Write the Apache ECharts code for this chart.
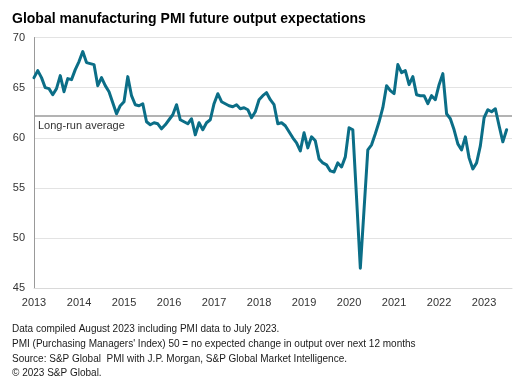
<!DOCTYPE html>
<html>
<head>
<meta charset="utf-8">
<script src="https://cdn.jsdelivr.net/npm/echarts@6/dist/echarts.min.js"></script>
<style>
  html, body { margin: 0; padding: 0; background: #ffffff; }
  #chart { width: 521px; height: 387px; }
</style>
</head>
<body>
<div id="chart"></div>
<script>
// Monthly values, Jan 2013 – Jul 2023
const startYear = 2013;
const v2013 = [66.0, 66.7, 66.0, 65.0, 64.9, 64.3, 64.9, 66.2, 64.6, 65.9, 65.8, 66.8];
const v2014 = [67.6, 68.6, 67.5, 67.4, 67.3, 65.2, 66.0, 65.2, 64.6, 63.5, 62.4, 63.2];
const v2015 = [63.6, 66.1, 64.2, 63.3, 63.2, 63.4, 61.6, 61.3, 61.5, 61.4, 60.9, 61.3];
const v2016 = [61.8, 62.3, 63.3, 61.8, 61.6, 61.4, 61.9, 60.3, 61.5, 60.8, 61.5, 61.8];
const v2017 = [63.4, 64.4, 63.6, 63.4, 63.2, 63.1, 63.3, 62.9, 63.0, 62.8, 62.0, 62.6];
const v2018 = [63.8, 64.2, 64.5, 63.8, 63.3, 61.4, 61.5, 61.2, 60.6, 60.0, 59.5, 58.7];
const v2019 = [60.5, 59.0, 60.1, 59.7, 57.9, 57.5, 57.3, 56.7, 56.6, 57.5, 57.1, 58.1];
const v2020 = [61.0, 60.8, 54.0, 47.0, 52.9, 58.8, 59.3, 60.4, 61.6, 63.0, 65.2, 64.7];
const v2021 = [64.4, 67.3, 66.5, 66.7, 65.3, 66.1, 64.3, 64.2, 64.2, 63.4, 64.2, 63.8];
const v2022 = [65.3, 66.4, 62.4, 61.9, 60.8, 59.4, 58.8, 60.1, 58.0, 56.9, 57.5, 59.2];
const v2023 = [62.0, 62.8, 62.6, 62.9, 61.2, 59.6, 60.8];
const longRunAverage = 62.2;
const yTicks = [45, 50, 55, 60, 65, 70];
const xTickYears = [2013, 2014, 2015, 2016, 2017, 2018, 2019, 2020, 2021, 2022, 2023];

const allValues = [].concat(v2013, v2014, v2015, v2016, v2017, v2018, v2019, v2020, v2021, v2022, v2023);
const seriesData = allValues.map((v, i) => [startYear + i / 12, v]);

const FONT = '"Liberation Sans", Arial, sans-serif';
const chart = echarts.init(document.getElementById('chart'), null, { renderer: 'canvas' });
chart.setOption({
  backgroundColor: '#ffffff',
  animation: false,
  title: [{
    text: 'Global manufacturing PMI future output expectations',
    left: 7, top: 7,
    textStyle: { fontFamily: FONT, fontSize: 14, fontWeight: 'bold', color: '#000000' }
  }, {
    text: 'Data compiled August 2023 including PMI data to July 2023.\nPMI (Purchasing Managers\' Index) 50 = no expected change in output over next 12 months\nSource: S&P Global  PMI with J.P. Morgan, S&P Global Market Intelligence.\n© 2023 S&P Global.',
    left: 7, top: 317,
    textStyle: { fontFamily: FONT, fontSize: 10, fontWeight: 'normal', color: '#1a1a1a', lineHeight: 14.7 }
  }],
  grid: { left: 34, right: 9, top: 37.5, height: 250.8, containLabel: false },
  xAxis: {
    type: 'value',
    min: xTickYears[0],
    max: 2023.62,
    interval: 1,
    axisLine: { show: true, lineStyle: { color: '#d9d9d9', width: 1 } },
    axisTick: { show: false },
    splitLine: { show: false },
    axisLabel: {
      fontFamily: FONT, fontSize: 11, color: '#333333', margin: 9,
      showMaxLabel: false,
      formatter: v => (xTickYears.indexOf(Math.round(v)) >= 0 && Math.abs(v - Math.round(v)) < 1e-6) ? String(Math.round(v)) : ''
    }
  },
  yAxis: {
    type: 'value',
    min: yTicks[0], max: yTicks[yTicks.length - 1], interval: 5,
    axisLine: { show: true, lineStyle: { color: '#999999', width: 1 } },
    axisTick: { show: false },
    splitLine: { show: true, lineStyle: { color: '#e3e3e3', width: 1 } },
    axisLabel: { fontFamily: FONT, fontSize: 11, color: '#333333', margin: 9 }
  },
  series: [{
    type: 'line',
    data: seriesData,
    showSymbol: false,
    symbol: 'none',
    lineStyle: { color: '#0b6e87', width: 3, join: 'round', cap: 'round' },
    z: 3,
    markLine: {
      silent: true,
      symbol: ['none', 'none'],
      lineStyle: { color: '#9a9a9a', width: 1.5, type: 'solid' },
      label: {
        show: true, position: 'insideStartBottom', formatter: 'Long-run average',
        fontFamily: FONT, fontSize: 11, color: '#333333', distance: [4, 5]
      },
      data: [{ yAxis: longRunAverage }],
      z: 2
    }
  }]
});
</script>
</body>
</html>
